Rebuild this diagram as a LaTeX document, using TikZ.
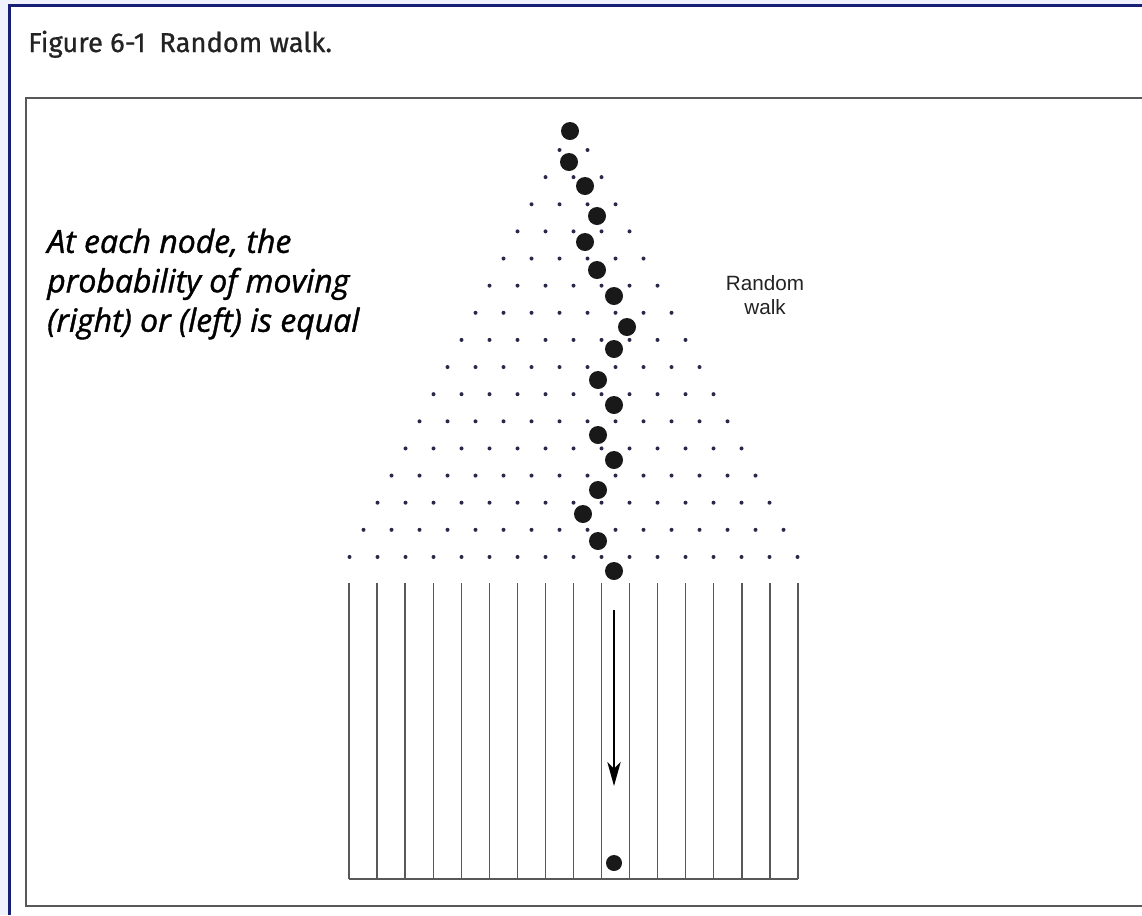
\documentclass[tikz,border=0pt]{standalone}
\usepackage{fontspec}
\setmainfont{Liberation Sans}
\newfontfamily\titlefont[FakeBold=0.7]{Fira Sans}
\newfontfamily\notefont[ItalicFeatures={FakeBold=1.2}]{Open Sans}
\usetikzlibrary{arrows.meta, positioning}
\definecolor{pageBg}{RGB}{240, 243, 253}
\definecolor{frameNavy}{RGB}{22, 32, 118}
\definecolor{lineGray}{RGB}{88, 88, 88}
\definecolor{textMain}{RGB}{35, 35, 35}
\definecolor{pegDot}{RGB}{40, 40, 75}
\definecolor{ballBlack}{RGB}{25, 25, 25}

\begin{document}
\begin{tikzpicture}[
    x=0.75pt, y=-0.75pt,
    peg/.style={circle, fill=pegDot, inner sep=0pt, minimum size=3pt},
    ball/.style={circle, fill=ballBlack, inner sep=0pt, minimum size=13.5pt},
    wall/.style={draw=lineGray, line width=1pt},
    caption/.style={font=\titlefont\fontsize{20.5}{24}\selectfont, text=textMain, anchor=base west, inner sep=0pt},
    note/.style={font=\notefont\itshape\fontsize{24}{29.6}\selectfont, text=black, align=left, anchor=west, inner sep=0pt},
    label/.style={font=\fontsize{15.5}{18}\selectfont, text=textMain, align=center, inner sep=0pt}
  ]
    % Page and frames
    \useasboundingbox (0,0) rectangle (1142,915);
    \fill[pageBg] (0,0) rectangle (1142,915);
    \fill[white] (10,5) rectangle (1142,915);
    \draw[frameNavy, line width=2.3pt] (9.5,915) -- (9.5,5.5) -- (1142,5.5);
    \draw[lineGray, line width=1.4pt] (1142,98) -- (26,98) -- (26,906) -- (1142,906);

    % Texts
    \node[caption] (title) at (28,52) {Figure 6-1\enspace Random walk.};
    \node[note] (rule) at (47,284) {At each node, the\\probability of moving\\(right) or (left) is equal};
    \node[label] (walkLabel) at (765,295) {Random\\walk};

    % Pegs of the triangle
    \foreach \r in {1,...,16} {
      \foreach \j in {0,...,\r} {
        \node[peg] (peg-\r-\j) at ({573.5+28*(\j-\r/2)}, {150+27.13*(\r-1)}) {};
      }
    }

    % Bins
    \foreach \i in {0,...,16}
      \draw[wall] ({349+28.06*\i},583) -- ({349+28.06*\i},879);
    \draw[wall] (349,879) -- (798,879);

    % Path of the ball
    \foreach \x/\y [count=\i] in {570/131, 569/162, 585/186, 597/216, 585/242, 597/270, 614/296, 627/327, 614/349, 598/380, 614/405, 598/435, 614/460, 598/490, 583/514, 598/541, 614/571}
      \node[ball] (ball\i) at (\x,\y) {};

    % Drop into the bin
    \coordinate (dropTop) at (614,610);
    \coordinate (dropEnd) at (614,786);
    \draw[-{Stealth[length=18pt, width=10pt, inset=5pt]}, line width=1.5pt, draw=black] (dropTop) -- (dropEnd);
    \node[ball, minimum size=12pt] (landed) at (614,863) {};
  \end{tikzpicture}
\end{document}
